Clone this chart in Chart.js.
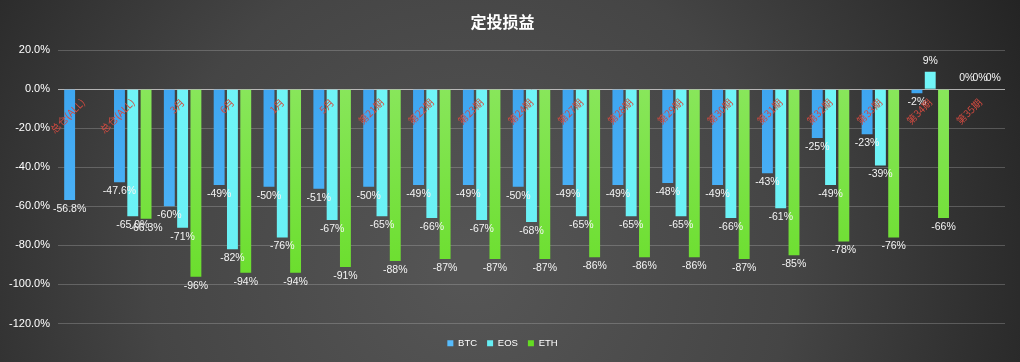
<!DOCTYPE html>
<html>
<head>
<meta charset="utf-8">
<script src="https://cdn.jsdelivr.net/npm/chart.js@4/dist/chart.umd.min.js"></script>
<style>
  html, body { margin: 0; padding: 0; background: #3a3a3a; }
  #wrap { width: 1020px; height: 362px; }
</style>
</head>
<body>
<div id="wrap"><canvas id="chart" width="1020" height="362"></canvas></div>
<script>
// Data
const categories = ['总仓(ALL)', '总仓(ALL)', '3月', '6月', '1月', '5月',
  '第21期', '第22期', '第23期', '第24期', '第27期', '第28期', '第29期',
  '第30期', '第31期', '第32期', '第33期', '第34期', '第35期'];
const btc = [-56.8, -47.6, -60, -49, -50, -51, -50, -49, -49, -50, -49, -49, -48, -49, -43, -25, -23, -2, 0];
const eos = [null, -65.0, -71, -82, -76, -67, -65, -66, -67, -68, -65, -65, -65, -66, -61, -49, -39, 9, 0];
const eth = [null, -66.3, -96, -94, -94, -91, -88, -87, -87, -87, -86, -86, -86, -87, -85, -78, -76, -66, 0];
const labelDecimals = [1, 1, 0, 0, 0, 0, 0, 0, 0, 0, 0, 0, 0, 0, 0, 0, 0, 0, 0];
const yTicks = [20, 0, -20, -40, -60, -80, -100, -120];

// Vertical gradient helper for the bars
const barFill = (top, bottom) => (ctx) => {
    const area = ctx.chart.chartArea;
    if (!area) return top;
    const g = ctx.chart.ctx.createLinearGradient(0, area.top, 0, area.bottom);
    g.addColorStop(0, top);
    g.addColorStop(1, bottom);
    return g;
};

// Dark radial background like the original sheet
const backgroundPlugin = {
    id: 'bg',
    beforeDraw(chart) {
        const { ctx, width, height } = chart;
        const g = ctx.createRadialGradient(470, 270, 20, 470, 270, 620);
        g.addColorStop(0, '#555555');
        g.addColorStop(0.5, '#454545');
        g.addColorStop(1, '#232323');
        ctx.save();
        ctx.fillStyle = g;
        ctx.fillRect(0, 0, width, height);
        ctx.restore();
    }
};

// Value labels at the end of each bar
const valueLabels = {
    id: 'valueLabels',
    afterDatasetsDraw(chart) {
        const { ctx } = chart;
        ctx.save();
        ctx.font = '10.5px "Liberation Sans", Arial, sans-serif';
        ctx.fillStyle = '#f4f4f4';
        ctx.textAlign = 'center';
        ctx.textBaseline = 'middle';
        chart.data.datasets.forEach((ds, i) => {
            const meta = chart.getDatasetMeta(i);
            meta.data.forEach((bar, j) => {
                const v = ds.data[j];
                if (v === null || v === undefined) return;
                const txt = v.toFixed(labelDecimals[j]) + '%';
                const y = v < 0 ? bar.y + 9 : bar.y - 11;
                ctx.fillText(txt, bar.x, y);
            });
        });
        ctx.restore();
    }
};

new Chart(document.getElementById('chart'), {
    type: 'bar',
    data: {
        labels: categories,
        datasets: [{
            label: 'BTC',
            data: btc,
            backgroundColor: barFill('#3aa2ee', '#56bcfd')
        }, {
            label: 'EOS',
            data: eos,
            backgroundColor: barFill('#72f6f8', '#66eef4')
        }, {
            label: 'ETH',
            data: eth,
            backgroundColor: barFill('#8ee864', '#64dc22')
        }]
    },
    options: {
        responsive: false,
        animation: false,
        layout: { padding: { left: 0, right: 15, top: 0, bottom: 4 } },
        datasets: {
            bar: { categoryPercentage: 0.8, barPercentage: 0.82 }
        },
        plugins: {
            title: {
                display: true,
                text: '定投损益',
                color: '#ffffff',
                font: { family: '"Noto Sans CJK SC", sans-serif', size: 16, weight: 'bold' },
                padding: { top: 12, bottom: 19 }
            },
            legend: {
                position: 'bottom',
                labels: {
                    color: '#ffffff',
                    boxWidth: 6,
                    boxHeight: 6,
                    padding: 10,
                    font: { family: '"Liberation Sans", Arial, sans-serif', size: 9.5 }
                }
            },
            tooltip: { enabled: false }
        },
        scales: {
            x: {
                position: { y: 0 },
                grid: { display: false, drawTicks: false },
                border: { display: false },
                ticks: {
                    z: 1, // category names sit on top of the bars
                    color: '#d24a40',
                    minRotation: 45,
                    maxRotation: 45,
                    padding: 7,
                    autoSkip: false,
                    font: { family: '"Noto Sans CJK SC", sans-serif', size: 10 }
                }
            },
            // empty spacer between the plot and the legend
            x2: {
                type: 'category',
                labels: categories,
                position: 'bottom',
                grid: { display: false, drawTicks: false },
                border: { display: false },
                ticks: { display: false },
                afterFit: (scale) => { scale.height = 5; }
            },
            y: {
                min: -120,
                max: 20,
                afterBuildTicks: (scale) => { scale.ticks = yTicks.map(v => ({ value: v })); },
                afterFit: (scale) => { scale.width = 58; },
                grid: {
                    drawTicks: false,
                    color: (c) => c.tick && c.tick.value === 0 ? 'rgba(220,220,220,0.75)' : 'rgba(200,200,200,0.28)',
                    lineWidth: 1
                },
                border: { display: false },
                ticks: {
                    color: '#ffffff',
                    padding: 8,
                    font: { family: '"Liberation Sans", Arial, sans-serif', size: 11 },
                    callback: (v) => v.toFixed(1) + '%'
                }
            }
        }
    },
    plugins: [backgroundPlugin, valueLabels]
});
</script>
</body>
</html>
